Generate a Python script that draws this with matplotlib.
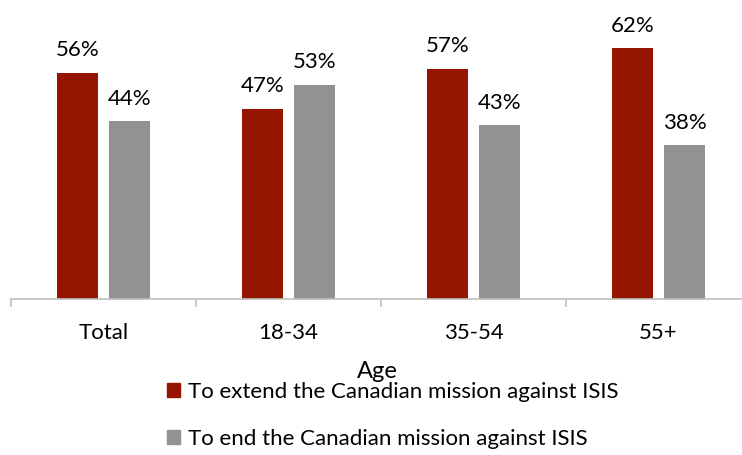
import matplotlib
matplotlib.use("Agg")
import matplotlib.pyplot as plt
import numpy as np
from matplotlib.patches import Patch

categories = ["Total", "18-34", "35-54", "55+"]
extend = [56, 47, 57, 62]
end = [44, 53, 43, 38]
series_names = ["To extend the Canadian mission against ISIS",
                "To end the Canadian mission against ISIS"]
red = "#961500"
gray = "#929292"

plt.rcParams["font.family"] = ["Lato", "DejaVu Sans"]

fig = plt.figure(figsize=(7.42, 4.55), dpi=100)
ax = fig.add_axes([11/742, 156/455, 740/742, 283/455])

x = np.arange(len(categories))
w = 0.222
off = 0.142
b1 = ax.bar(x - off, extend, w, color=red)
b2 = ax.bar(x + off, end, w, color=gray)
for bars, vals in ((b1, extend), (b2, end)):
    for r, v in zip(bars, vals):
        ax.annotate(f"{v}%", (r.get_x() + r.get_width()/2, v), xytext=(0, 9),
                    textcoords="offset points", ha="center", va="bottom", fontsize=16)

ax.set_xlim(-0.5, len(categories) - 0.5)
ax.set_ylim(0, 70)
for s in ["top", "right", "left"]:
    ax.spines[s].set_visible(False)
ax.spines["bottom"].set_color("#bfbfbf")
ax.spines["bottom"].set_linewidth(1.2)
ax.set_yticks([])
ax.set_xticks(x)
ax.set_xticklabels(categories, fontsize=16)
ax.tick_params(axis="x", length=0, pad=17)
ax.set_xticks(np.arange(-0.5, len(categories)), minor=True)
ax.tick_params(axis="x", which="minor", length=6, color="#bfbfbf", width=1.2)

fig.text(377/742, 1 - 372/455, "Age", ha="center", va="center", fontsize=17)

handles = [Patch(color=red), Patch(color=gray)]
fig.legend(handles, series_names, loc="upper left", bbox_to_anchor=(167/742, 1 - 382/455),
           frameon=False, fontsize=16, handlelength=0.6, handleheight=0.6,
           handletextpad=0.35, labelspacing=1.2, borderpad=0, borderaxespad=0)

fig.savefig("out.png", dpi=100)
